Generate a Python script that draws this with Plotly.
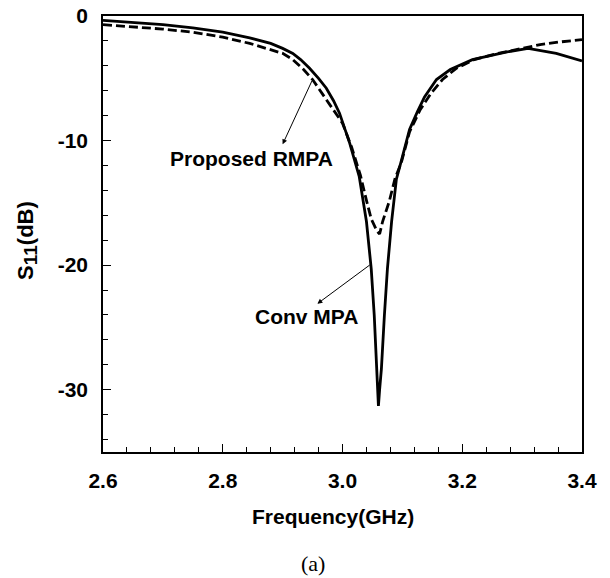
import plotly.graph_objects as go

# Conv MPA (solid)
conv_f = [2.600, 2.650, 2.700, 2.750, 2.800, 2.845, 2.880, 2.900, 2.917, 2.930, 2.945,
          2.960, 2.973, 2.985, 2.995, 3.012, 3.028, 3.040, 3.048, 3.053, 3.057, 3.060,
          3.062, 3.065, 3.070, 3.075, 3.082, 3.090, 3.100, 3.112, 3.125, 3.137, 3.157,
          3.180, 3.217, 3.273, 3.310, 3.357, 3.400]
conv_db = [-0.35, -0.50, -0.70, -0.95, -1.30, -1.75, -2.20, -2.60, -3.00, -3.50, -4.20,
           -5.00, -5.80, -6.80, -7.80, -10.2, -12.9, -16.5, -20.3, -24.0, -27.8, -31.3,
           -30.0, -28.3, -24.0, -20.3, -16.5, -13.1, -11.3, -9.1, -7.7, -6.5, -5.1,
           -4.3, -3.5, -2.9, -2.6, -3.0, -3.6]

# Proposed RMPA (dashed)
prop_f = [2.600, 2.650, 2.700, 2.750, 2.800, 2.845, 2.878, 2.900, 2.917, 2.935, 2.950,
          2.967, 2.985, 3.000, 3.015, 3.030, 3.040, 3.048, 3.058, 3.062, 3.067, 3.078,
          3.088, 3.098, 3.112, 3.130, 3.148, 3.167, 3.190, 3.220, 3.260, 3.300, 3.330,
          3.360, 3.400]
prop_db = [-0.70, -0.85, -1.05, -1.30, -1.70, -2.20, -2.65, -3.00, -3.50, -4.30, -5.10,
           -6.30, -7.50, -8.60, -10.5, -12.8, -14.8, -16.3, -17.3, -17.5, -16.5, -14.9,
           -13.0, -11.8, -9.3, -7.5, -6.2, -5.1, -4.2, -3.5, -3.0, -2.6, -2.3,
           -2.1, -1.9]

x_ticks = [2.6, 2.8, 3.0, 3.2, 3.4]
x_tick_text = ["2.6", "2.8", "3.0", "3.2", "3.4"]
y_ticks = [0, -10, -20, -30]
y_tick_text = ["0", "-10", "-20", "-30"]

FONT = "Liberation Sans, Arial, sans-serif"

fig = go.Figure()
fig.add_trace(go.Scatter(x=conv_f, y=conv_db, mode="lines", name="Conv MPA",
                         line=dict(color="black", width=2.8)))
fig.add_trace(go.Scatter(x=prop_f, y=prop_db, mode="lines", name="Proposed RMPA",
                         line=dict(color="black", width=2.8, dash="9px,4px")))

axis_common = dict(
    showline=True, linecolor="black", linewidth=1.5, mirror=True,
    ticks="inside", ticklen=8, tickwidth=1.2, tickcolor="black",
    showgrid=False, zeroline=False, ticklabeloverflow="allow",
    tickfont=dict(family=FONT, size=21, color="black", weight="bold"),
)

fig.update_xaxes(range=[2.6, 3.4], tickvals=x_ticks, ticktext=x_tick_text,
                 minor=dict(dtick=0.04, ticks="inside", ticklen=5, tickcolor="black", tickwidth=1),
                 ticklabelstandoff=9, **axis_common)
fig.update_yaxes(range=[-35, 0], tickvals=y_ticks, ticktext=y_tick_text,
                 minor=dict(dtick=2, ticks="inside", ticklen=5, tickcolor="black", tickwidth=1),
                 ticklabelstandoff=9, **axis_common)

annotations = [
    # arrows (head near the label, tail on the curve)
    dict(x=2.90, y=-10.3, ax=2.95, ay=-5.1, xref="x", yref="y", axref="x", ayref="y",
         text="", showarrow=True, arrowhead=2, arrowsize=1, arrowwidth=1, arrowcolor="black"),
    dict(x=2.958, y=-23.1, ax=3.048, ay=-19.9, xref="x", yref="y", axref="x", ayref="y",
         text="", showarrow=True, arrowhead=2, arrowsize=1, arrowwidth=1, arrowcolor="black"),
    dict(x=2.848, y=-11.4, xref="x", yref="y", text="Proposed RMPA", showarrow=False,
         xanchor="center", yanchor="middle",
         font=dict(family=FONT, size=21, color="black", weight="bold")),
    dict(x=2.94, y=-24.1, xref="x", yref="y", text="Conv MPA", showarrow=False,
         xanchor="center", yanchor="middle",
         font=dict(family=FONT, size=21, color="black", weight="bold")),
    # axis titles
    dict(x=0.48, y=-0.147, xref="paper", yref="paper", text="Frequency(GHz)", showarrow=False,
         xanchor="center", yanchor="middle",
         font=dict(family=FONT, size=21, color="black", weight="bold")),
    dict(x=-0.159, y=0.486, xref="paper", yref="paper",
         text="S<sub><span style='font-size:19px'>11</span></sub>(dB)", showarrow=False,
         xanchor="center", yanchor="middle",
         textangle=-90, font=dict(family=FONT, size=22, color="black", weight="bold")),
    dict(x=0.438, y=-0.255, xref="paper", yref="paper", text="(a)", showarrow=False,
         xanchor="center", yanchor="middle",
         font=dict(family="Liberation Serif, Times New Roman, serif", size=22, color="black")),
]

fig.update_layout(
    width=610, height=578,
    margin=dict(l=103, r=28, t=16, b=126, autoexpand=False),
    paper_bgcolor="white", plot_bgcolor="white",
    showlegend=False,
    annotations=annotations,
)

# remove the browser's default 8px body margin so the figure fills the window exactly
fig.write_html("out.html",
               config={"displayModeBar": False},
               post_script="document.body.style.margin='0';document.body.style.overflow='hidden';")
